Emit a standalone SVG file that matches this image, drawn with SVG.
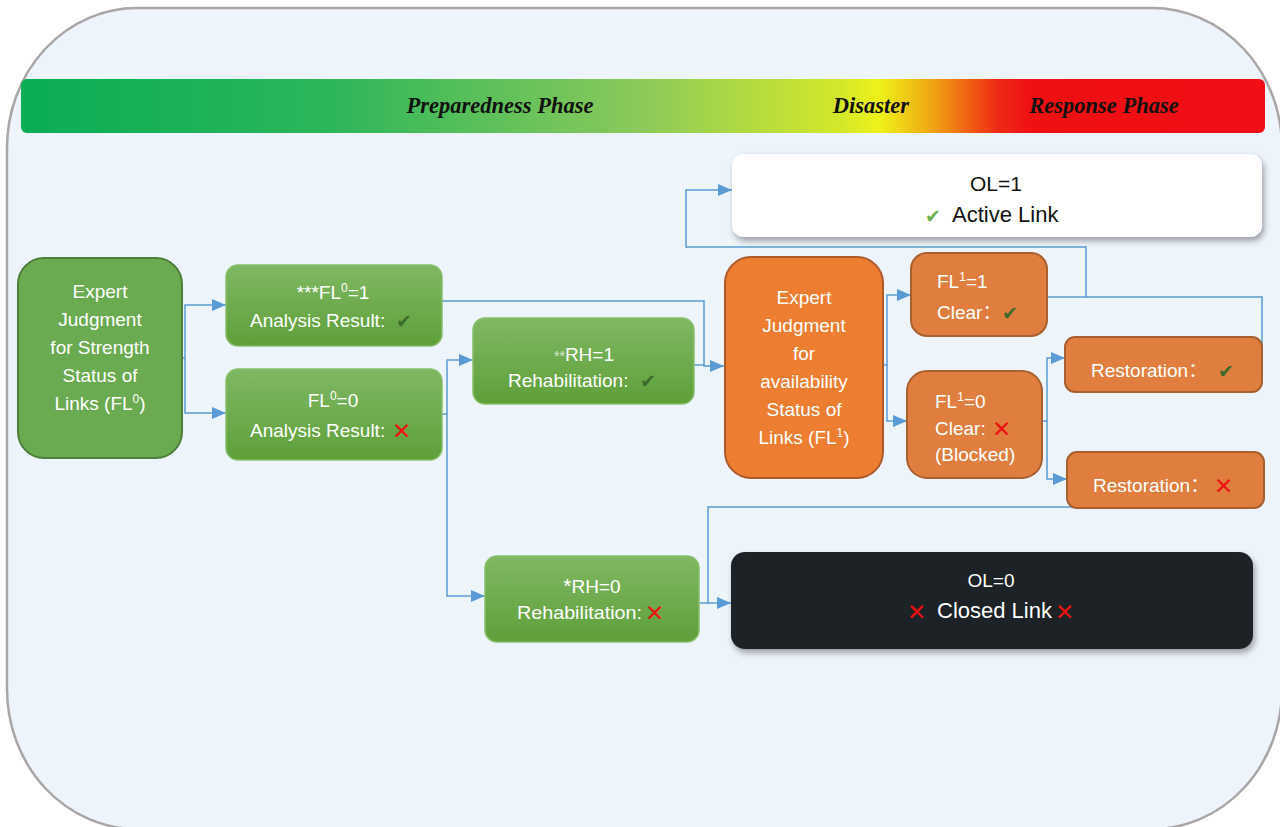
<svg xmlns="http://www.w3.org/2000/svg" width="1280" height="827" viewBox="0 0 1280 827">
<defs>
  <linearGradient id="phase" x1="21" y1="0" x2="1265" y2="0" gradientUnits="userSpaceOnUse">
    <stop offset="0" stop-color="#09ad54"/>
    <stop offset="0.25" stop-color="#2db65a"/>
    <stop offset="0.5" stop-color="#8cca5a"/>
    <stop offset="0.66" stop-color="#d4e82a"/>
    <stop offset="0.69" stop-color="#eef219"/>
    <stop offset="0.735" stop-color="#f0a012"/>
    <stop offset="0.785" stop-color="#ee2a14"/>
    <stop offset="0.81" stop-color="#ef1013"/>
    <stop offset="1" stop-color="#ef0e14"/>
  </linearGradient>
  <linearGradient id="greenG" x1="0" y1="0" x2="0" y2="1">
    <stop offset="0" stop-color="#7fb863"/>
    <stop offset="1" stop-color="#5e9f39"/>
  </linearGradient>
  <filter id="shadow" x="-10%" y="-20%" width="120%" height="150%">
    <feDropShadow dx="2" dy="4" stdDeviation="3" flood-color="#000" flood-opacity="0.35"/>
  </filter>
  <marker id="arr" viewBox="0 0 14 12" refX="14" refY="6" markerWidth="14" markerHeight="12" markerUnits="userSpaceOnUse" orient="auto">
    <path d="M0,0 L14,6 L0,12 z" fill="#5b9bd5"/>
  </marker>
  <style>
    .t { font-family: "Liberation Sans", Arial, "Noto Sans CJK SC", sans-serif; font-size: 19px; fill: #ffffff; }
    .tc { text-anchor: middle; }
    .sup { font-size: 12px; }
    .ph { font-family: "Liberation Serif", "Times New Roman", serif; font-size: 22.5px; font-weight: bold; font-style: italic; fill: #111; }
    .chk { font-family: "DejaVu Sans", sans-serif; font-size: 19px; fill: #3c6b2a; }
    .xx { font-family: "DejaVu Sans", sans-serif; font-size: 23px; fill: #ee1111; font-weight: bold; }
    .gbox { fill: url(#greenG); stroke: #86bf68; stroke-width: 1.5; }
    .obox { fill: #e07e40; stroke: #a8602f; stroke-width: 2; }
    .conn path { fill: none; stroke: #5b9bd5; stroke-width: 1.5; }
  </style>
</defs>

<!-- background frame -->
<rect x="7" y="8" width="1275" height="821" rx="130" ry="140" fill="#eef4fc" stroke="#aaa6a6" stroke-width="2.5"/>

<!-- phase bar -->
<g id="phase-bar">
  <rect x="21" y="79" width="1244" height="54" rx="6" fill="url(#phase)"/>
  <text class="ph" x="500" y="113" text-anchor="middle">Preparedness Phase</text>
  <text class="ph" x="871" y="113" text-anchor="middle">Disaster</text>
  <text class="ph" x="1104" y="113" text-anchor="middle">Response Phase</text>
</g>

<!-- connectors -->
<g id="connectors" class="conn">
  <path d="M182,358 H185 V305 H226" marker-end="url(#arr)"/>
  <path d="M185,358 V413 H226" marker-end="url(#arr)"/>
  <path d="M442,301 H704 V366 H724" marker-end="url(#arr)"/>
  <path d="M694,365 H704"/>
  <path d="M442,414 H447 V360 H473" marker-end="url(#arr)"/>
  <path d="M447,414 V596 H485" marker-end="url(#arr)"/>
  <path d="M883,365 H887 V295 H911" marker-end="url(#arr)"/>
  <path d="M887,365 V421 H907" marker-end="url(#arr)"/>
  <path d="M1042,421 H1047 V358 H1065" marker-end="url(#arr)"/>
  <path d="M1047,421 V479 H1067" marker-end="url(#arr)"/>
  <path d="M1262,363 V297 H1086 V247 H686 V190 H732" marker-end="url(#arr)"/>
  <path d="M1047,297 H1086"/>
  <path d="M1167,507 H708 V603 H731" marker-end="url(#arr)"/>
  <path d="M699,603 H708"/>
</g>

<!-- left expert judgment -->
<g id="expert-strength">
  <rect x="18" y="258" width="164" height="200" rx="26" fill="#6aaa50" stroke="#4f7f3b" stroke-width="2"/>
  <text class="t tc" x="100" y="298">Expert</text>
  <text class="t tc" x="100" y="326">Judgment</text>
  <text class="t tc" x="100" y="354">for Strength</text>
  <text class="t tc" x="100" y="382">Status of</text>
  <text class="t tc" x="100" y="410">Links (FL<tspan class="sup" dy="-7">0</tspan><tspan dy="7">)</tspan></text>
</g>

<g id="fl0-1">
  <rect class="gbox" x="226" y="265" width="216" height="81" rx="12"/>
  <text class="t tc" x="333" y="299">***FL<tspan class="sup" dy="-7">0</tspan><tspan dy="7">=1</tspan></text>
  <text class="t" x="250" y="327">Analysis Result:</text>
  <text class="chk" x="396" y="328">✔</text>
</g>

<g id="fl0-0">
  <rect class="gbox" x="226" y="369" width="216" height="91" rx="12"/>
  <text class="t tc" x="333" y="407">FL<tspan class="sup" dy="-7">0</tspan><tspan dy="7">=0</tspan></text>
  <text class="t" x="250" y="437">Analysis Result:</text>
  <text class="xx" x="392" y="439">✕</text>
</g>

<g id="rh-1">
  <rect class="gbox" x="473" y="318" width="221" height="86" rx="12"/>
  <text class="t tc" x="584" y="361"><tspan font-size="14" fill="#dfe8d8">**</tspan>RH=1</text>
  <text class="t" x="508" y="387">Rehabilitation:</text>
  <text class="chk" x="640" y="388">✔</text>
</g>

<g id="rh-0">
  <rect class="gbox" x="485" y="556" width="214" height="86" rx="12"/>
  <text class="t tc" x="592" y="593" fill="#f4f8f0"><tspan font-size="21">*</tspan>RH=0</text>
  <text class="t" x="517" y="619" textLength="125" lengthAdjust="spacingAndGlyphs">Rehabilitation:</text>
  <text class="xx" x="645" y="621">✕</text>
</g>

<g id="expert-availability">
  <rect x="725" y="257" width="158" height="221" rx="26" fill="#ed7d31" stroke="#ad5a28" stroke-width="2"/>
  <text class="t tc" x="804" y="304">Expert</text>
  <text class="t tc" x="804" y="332">Judgment</text>
  <text class="t tc" x="804" y="360">for</text>
  <text class="t tc" x="804" y="388">availability</text>
  <text class="t tc" x="804" y="416">Status of</text>
  <text class="t tc" x="804" y="444">Links (FL<tspan class="sup" dy="-7">1</tspan><tspan dy="7">)</tspan></text>
</g>

<g id="fl1-1">
  <rect class="obox" x="911" y="253" width="136" height="83" rx="16"/>
  <text class="t" x="937" y="288">FL<tspan class="sup" dy="-7">1</tspan><tspan dy="7">=1</tspan></text>
  <text class="t" x="937" y="319">Clear：</text>
  <text class="chk" x="1002" y="320">✔</text>
</g>

<g id="fl1-0">
  <rect class="obox" x="907" y="371" width="135" height="107" rx="20"/>
  <text class="t" x="935" y="408">FL<tspan class="sup" dy="-7">1</tspan><tspan dy="7">=0</tspan></text>
  <text class="t" x="935" y="435">Clear:</text>
  <text class="xx" x="992" y="437">✕</text>
  <text class="t" x="935" y="461">(Blocked)</text>
</g>

<g id="restoration-ok">
  <rect class="obox" x="1065" y="337" width="197" height="55" rx="10"/>
  <text class="t" x="1091" y="377">Restoration：</text>
  <text class="chk" x="1218" y="378">✔</text>
</g>

<g id="restoration-fail">
  <rect class="obox" x="1067" y="452" width="197" height="56" rx="10"/>
  <text class="t" x="1093" y="492">Restoration：</text>
  <text class="xx" x="1214" y="494">✕</text>
</g>

<g id="ol-1">
  <rect x="732" y="154" width="530" height="83" rx="12" fill="#ffffff" filter="url(#shadow)"/>
  <text class="t tc" x="996" y="191" style="fill:#111111;font-size:21px">OL=1</text>
  <text class="chk" x="925" y="223" style="fill:#6ab04c">✔</text>
  <text class="t" x="952" y="222" style="fill:#111111;font-size:22px">Active Link</text>
</g>

<g id="ol-0">
  <rect x="731" y="552" width="522" height="97" rx="14" fill="#1e2226" filter="url(#shadow)"/>
  <text class="t tc" x="991" y="587">OL=0</text>
  <text class="xx" x="907" y="620">✕</text>
  <text class="t" x="937" y="618" style="font-size:22px">Closed Link</text>
  <text class="xx" x="1055" y="620">✕</text>
</g>
</svg>
